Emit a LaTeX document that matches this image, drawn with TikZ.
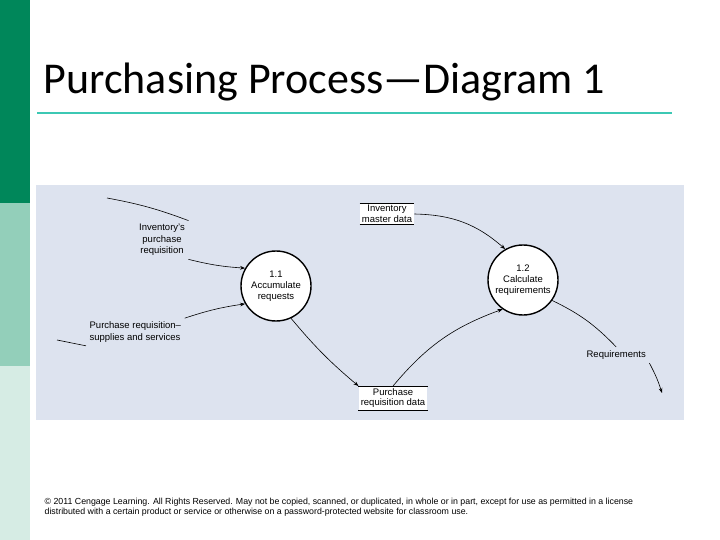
\documentclass[tikz,border=0pt]{standalone}
\usepackage{fontspec}
\setmainfont{Liberation Sans}
\newfontfamily\titlefont{Carlito}
\usetikzlibrary{positioning,arrows.meta}
\definecolor{darkgreen}{HTML}{00875A}
\definecolor{midgreen}{HTML}{93CFBA}
\definecolor{palegreen}{HTML}{D6ECE4}
\definecolor{ruleteal}{HTML}{3CC8B4}
\definecolor{panelblue}{HTML}{DDE3EF}

\begin{document}
\begin{tikzpicture}[x=1pt, y=-1pt, -{Stealth[length=5pt]}, semithick,
               proc/.style ={circle, draw, line width=1.4pt, fill=white, minimum size=70pt,
               inner sep=0pt, align=center, font=\fontsize{9.5}{11}\selectfont},
               store/.style ={fill=white, inner sep=2pt, align=center, font=\fontsize{9.5}{10.5}\selectfont},
               flow/.style ={align=center, font=\fontsize{9.5}{11.5}\selectfont}]

           % frame of the slide
           \useasboundingbox (0,0) rectangle (720,540);
           \fill[darkgreen] (0,0) rectangle (30,203);
           \fill[midgreen] (0,203) rectangle (30,366);
           \fill[palegreen] (0,366) rectangle (30,540);
           \node[anchor=west, font=\titlefont\fontsize{44}{46}\selectfont] (title) at (40,82) {Purchasing Process—Diagram 1};
           \draw[-, ruleteal, line width=1.5pt] (37,113) -- (672,113);
           \fill[panelblue] (36,185) rectangle (684,420);

           % processes and stores
           \node[proc] (p1) at (276,286) {1.1\\Accumulate\\requests};
           \node[proc] (p2) at (523,280) {1.2\\Calculate\\requirements};
           \node[store] (s1) at (387,214) {Inventory\\master data};
           \node[store] (s2) at (393,398) {Purchase\\requisition data};
           \draw[-, thick] (s1.north west) -- (s1.north east) (s1.south west) -- (s1.south east);
           \draw[-, thick] (s2.north west) -- (s2.north east) (s2.south west) -- (s2.south east);

           % flow labels
           \node[flow] (f1) at (162,240) {Inventory's\\purchase\\requisition};
           \node[flow, anchor=west, align=left] (f2) at (86,332) {Purchase requisition–\\supplies and services};
           \node[flow, anchor=west] (f3) at (583,355) {Requirements};
           \coordinate (c1) at (107,198);
           \coordinate (c2) at (57,340);
           \coordinate (c3) at (662,393);

           \draw[-] (c1) to[bend left=5] (f1.north east);
           \draw (f1.south east) to[bend right=5] (p1.150);
           \draw[-] (c2) -- (f2.south west);
           \draw (f2.north east) to[bend left=5] (p1.210);
           \draw (p1.295) to[bend right=5] (s2.north west);
           \draw (s2.north) to[bend left=15] (p2.235);
           \draw (s1.east) to[bend left=20] (p2.120);
           \draw[-] (p2.325) to[bend left=10] (f3.north);
           \draw (f3.south east) to[bend left=5] (c3);

           \node[anchor=north west, align=left, font=\fontsize{8.8}{10}\selectfont] (copy) at (41,494)
             {\textcopyright{} 2011 Cengage Learning. All Rights Reserved. May not be copied, scanned, or duplicated, in whole or in part, except for use as permitted in a license\\distributed with a certain product or service or otherwise on a password-protected website for classroom use.};
\end{tikzpicture}
\end{document}
